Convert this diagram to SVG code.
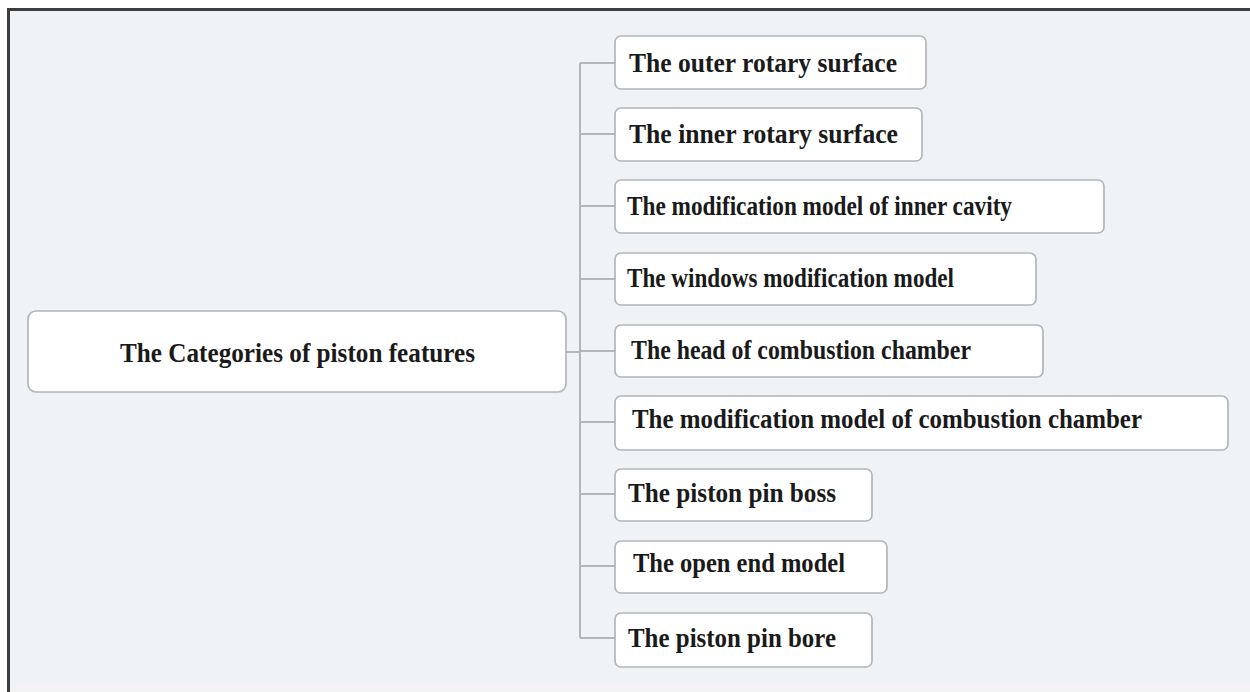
<svg xmlns="http://www.w3.org/2000/svg" width="1250" height="692" viewBox="0 0 1250 692">
  <style>
    .node rect { fill: #ffffff; stroke: #b4b5b8; stroke-width: 1.7; }
    .node text { font-family: "Liberation Serif", "Times New Roman", serif; font-weight: bold; font-size: 27px; fill: #1a1a1a; }
    .conn { fill: none; stroke: #b3b7bb; stroke-width: 2; }
  </style>
  <!-- page -->
  <rect x="0" y="0" width="1250" height="692" fill="#ffffff"/>
  <rect x="9" y="10" width="1241" height="682" fill="#eff3f6"/>
  <rect x="9" y="682" width="1241" height="10" fill="#f3f3f6"/>
  <path d="M8.5 692 V9.5 H1250" fill="none" stroke="#3d3d3d" stroke-width="3"/>

  <!-- connectors -->
  <g id="connectors" class="conn">
    <path class="conn" d="M566 352 H580"/>
    <path class="conn" d="M580 63 V638"/>
    <path class="conn" d="M580 63 H615"/>
    <path class="conn" d="M580 134 H615"/>
    <path class="conn" d="M580 206 H615"/>
    <path class="conn" d="M580 279 H615"/>
    <path class="conn" d="M580 351 H615"/>
    <path class="conn" d="M580 422 H615"/>
    <path class="conn" d="M580 494 H615"/>
    <path class="conn" d="M580 566 H615"/>
    <path class="conn" d="M580 638 H615"/>
  </g>

  <g id="root" class="node">
    <rect x="28" y="311" width="538" height="81" rx="8"/>
    <text x="120" y="362" textLength="355" lengthAdjust="spacingAndGlyphs">The Categories of piston features</text>
  </g>
  <g id="n1" class="node">
    <rect x="615" y="36" width="311" height="53" rx="6"/>
    <text x="629" y="72" textLength="268" lengthAdjust="spacingAndGlyphs">The outer rotary surface</text>
  </g>
  <g id="n2" class="node">
    <rect x="615" y="108" width="307" height="53" rx="6"/>
    <text x="629" y="143" textLength="269" lengthAdjust="spacingAndGlyphs">The inner rotary surface</text>
  </g>
  <g id="n3" class="node">
    <rect x="615" y="180" width="489" height="53" rx="6"/>
    <text x="627" y="215" textLength="385" lengthAdjust="spacingAndGlyphs">The modification model of inner cavity</text>
  </g>
  <g id="n4" class="node">
    <rect x="615" y="253" width="421" height="52" rx="6"/>
    <text x="627" y="287" textLength="327" lengthAdjust="spacingAndGlyphs">The windows modification model</text>
  </g>
  <g id="n5" class="node">
    <rect x="615" y="325" width="428" height="52" rx="6"/>
    <text x="631" y="359" textLength="340" lengthAdjust="spacingAndGlyphs">The head of combustion chamber</text>
  </g>
  <g id="n6" class="node">
    <rect x="615" y="396" width="613" height="54" rx="6"/>
    <text x="632" y="428" textLength="510" lengthAdjust="spacingAndGlyphs">The modification model of combustion chamber</text>
  </g>
  <g id="n7" class="node">
    <rect x="615" y="469" width="257" height="52" rx="6"/>
    <text x="628" y="502" textLength="208" lengthAdjust="spacingAndGlyphs">The piston pin boss</text>
  </g>
  <g id="n8" class="node">
    <rect x="615" y="541" width="272" height="52" rx="6"/>
    <text x="633" y="572" textLength="212" lengthAdjust="spacingAndGlyphs">The open end model</text>
  </g>
  <g id="n9" class="node">
    <rect x="615" y="613" width="257" height="54" rx="6"/>
    <text x="628" y="647" textLength="208" lengthAdjust="spacingAndGlyphs">The piston pin bore</text>
  </g>
</svg>
